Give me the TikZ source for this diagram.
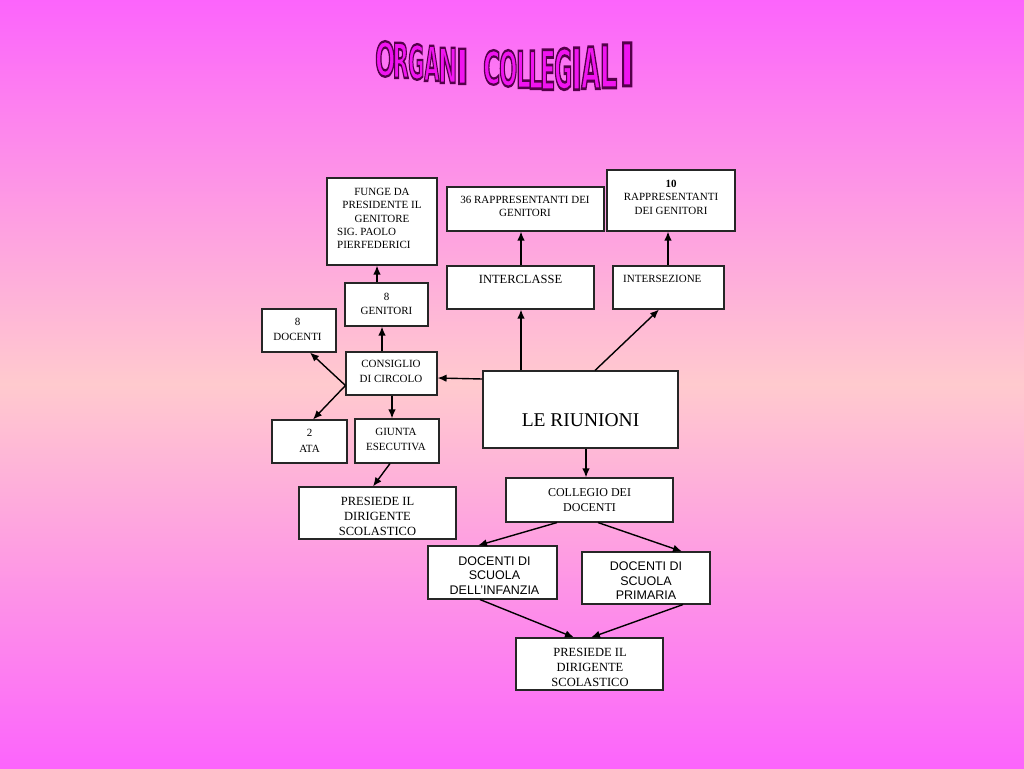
\documentclass[tikz,border=0pt]{standalone}
\usepackage{fontspec}
\usepackage{graphicx}
\setmainfont{Liberation Serif}
\newfontfamily\arialf{Liberation Sans}
\newfontfamily\titlef{DejaVu Sans}
\usetikzlibrary{arrows.meta}
\definecolor{bgtop}{RGB}{252,100,252}
\definecolor{bgmid}{RGB}{255,202,206}
\definecolor{tfill}{RGB}{240,20,240}
\newcommand\olet[1]{\special{pdf:literal direct 2 Tr 2.4 w 0.33 0 0.29 RG}#1\special{pdf:literal direct 0 Tr}}
\begin{document}
\begin{tikzpicture}[x=1pt,y=-1pt,
  box/.style={draw=black!85, line width=1.1pt, fill=white, inner sep=0pt},
  txt/.style={inner sep=0pt, align=center, font=\fontsize{11}{15}\selectfont},
  stxt/.style={inner sep=0pt, align=center, font=\arialf\fontsize{12.5}{14.5}\selectfont},
  arr/.style={line width=1.4pt, -{Latex[length=9pt,width=7.5pt]}},
  tf/.style={inner sep=0pt, anchor=south west, text=tfill}]
\useasboundingbox (0,0) rectangle (1024,768);
\fill[top color=bgtop, bottom color=bgtop, middle color=bgmid] (0,0) rectangle (1024,768);

% boxes
\node[box, minimum width=110pt, minimum height=87pt] (fd) at (382,221.5) {};
\node[box, minimum width=157pt, minimum height=44pt] (r36) at (525.5,209) {};
\node[box, minimum width=128pt, minimum height=61pt] (r10) at (671,200.5) {};
\node[box, minimum width=147pt, minimum height=43pt] (icl) at (520.5,287.5) {};
\node[box, minimum width=111pt, minimum height=43pt] (ise) at (668.5,287.5) {};
\node[box, minimum width=83pt, minimum height=43pt] (gen) at (386.5,304.5) {};
\node[box, minimum width=74pt, minimum height=43pt] (doc) at (299,330.5) {};
\node[box, minimum width=91pt, minimum height=43pt] (cc) at (391.5,373.5) {};
\node[box, minimum width=195pt, minimum height=77pt] (lr) at (580.5,409.5) {};
\node[box, minimum width=75pt, minimum height=43pt] (ata) at (309.5,441.5) {};
\node[box, minimum width=84pt, minimum height=44pt] (ge) at (397,441) {};
\node[box, minimum width=157pt, minimum height=52pt] (pl) at (377.5,513) {};
\node[box, minimum width=167pt, minimum height=44pt] (cd) at (589.5,500) {};
\node[box, minimum width=129pt, minimum height=53pt] (di) at (492.5,572.5) {};
\node[box, minimum width=128pt, minimum height=52pt] (dp) at (646,578) {};
\node[box, minimum width=147pt, minimum height=52pt] (pb) at (589.5,664) {};

% texts
\node[txt, font=\fontsize{11}{13.5}\selectfont] (tfd1) at (382,205) {FUNGE DA\\PRESIDENTE IL\\GENITORE};
\node[txt, align=left, anchor=west, font=\fontsize{11}{13.5}\selectfont] (tfd2) at (337,238.5) {SIG. PAOLO\\PIERFEDERICI};
\node[txt, font=\fontsize{11}{13}\selectfont] (tr36) at (525,206.5) {36 RAPPRESENTANTI DEI\\GENITORI};
\node[txt, font=\fontsize{11}{13.5}\selectfont] (tr10) at (671,197) {\textbf{10}\\RAPPRESENTANTI\\DEI GENITORI};
\node[txt, font=\fontsize{12.5}{15}\selectfont] (ticl) at (520.5,279.5) {INTERCLASSE};
\node[txt, anchor=west] (tise) at (623,278.5) {INTERSEZIONE};
\node[txt, font=\fontsize{11}{14.5}\selectfont] (tgen) at (386.5,304) {8\\GENITORI};
\node[txt] (tdoc) at (297.5,329) {8\\DOCENTI};
\node[txt] (tcc) at (391,371.5) {CONSIGLIO\\DI CIRCOLO};
\node[txt, font=\fontsize{19.5}{22}\selectfont] (tlr) at (580.5,420.5) {LE RIUNIONI};
\node[txt, font=\fontsize{11}{16}\selectfont] (tata) at (309.5,441) {2\\ATA};
\node[txt] (tge) at (396,439.5) {GIUNTA\\ESECUTIVA};
\node[txt, font=\fontsize{12.5}{15.3}\selectfont] (tpl) at (377.5,516.5) {PRESIEDE IL\\DIRIGENTE\\SCOLASTICO};
\node[txt, font=\fontsize{12}{15}\selectfont] (tcd) at (589.5,500) {COLLEGIO DEI\\DOCENTI};
\node[stxt] (tdi) at (494.5,575.5) {DOCENTI DI\\SCUOLA\\DELL’INFANZIA};
\node[stxt] (tdp) at (646,581) {DOCENTI DI\\SCUOLA\\PRIMARIA};
\node[txt, font=\fontsize{12.5}{15}\selectfont] (tpb) at (590,667.5) {PRESIEDE IL\\DIRIGENTE\\SCOLASTICO};

% connectors
\draw[arr] ([xshift=-9.5pt]gen.north) -- ([xshift=-5pt]fd.south);
\draw[arr] ([xshift=-9.5pt]cc.north) -- ([xshift=-4.5pt]gen.south);
\draw[arr] ([yshift=-12pt]cc.west) -- ([xshift=11pt]doc.south);
\draw[arr] ([yshift=-12pt]cc.west) -- ([xshift=3.5pt]ata.north);
\draw[arr] ([xshift=0.5pt]cc.south) -- ([xshift=-5pt]ge.north);
\draw[arr] ([xshift=-7pt]ge.south) -- ([xshift=-4.5pt]pl.north);
\draw[arr] ([yshift=30.5pt]lr.west) -- ([yshift=-4.5pt]cc.east);
\draw[arr] ([xshift=-59.5pt]lr.north) -- ([xshift=0.5pt]icl.south);
\draw[arr] ([xshift=14.5pt]lr.north) -- ([xshift=-9.5pt]ise.south);
\draw[arr] ([xshift=0.5pt]icl.north) -- ([xshift=-4.5pt]r36.south);
\draw[arr] ([xshift=-0.5pt]ise.north) -- ([xshift=-3pt]r10.south);
\draw[arr] ([xshift=5.5pt]lr.south) -- ([xshift=-3.5pt]cd.north);
\draw[arr] ([xshift=-32.5pt]cd.south) -- ([xshift=-14.5pt]di.north);
\draw[arr] ([xshift=8.5pt]cd.south) -- ([xshift=36pt]dp.north);
\draw[arr] ([xshift=-12.5pt]di.south) -- ([xshift=-15.5pt]pb.north);
\draw[arr] ([xshift=37pt]dp.south) -- ([xshift=1.5pt]pb.north);

% title (drawn last)
\foreach \xl/\xr/\yt/\yb/\ch [count=\i] in {
  375/395/42/77/O, 392.5/408.5/43/78/R, 408/424/45/80/G, 424/439/46/81/A, 438/457/48/83/N, 455.5/468.5/49/84/I,
  483/500/51/85/C, 499/517/51/87/O, 516/530.5/51/88/L, 528/542.5/51/89/L, 540/555/50/90/E, 554/572/49/90/G,
  571/582/48/90/I, 581/600/47/89/A, 599.5/617/45/88/L, 619/635/43/86/I}{
  \pgfmathsetmacro{\w}{\xr-\xl}
  \pgfmathsetmacro{\h}{\yb-\yt}
  \node[tf] (tt\i) at (\xl,\yb) {\resizebox{\w pt}{\h pt}{\olet{\titlef\fontsize{48}{48}\selectfont\bfseries \ch}}};
}
\end{tikzpicture}
\end{document}
